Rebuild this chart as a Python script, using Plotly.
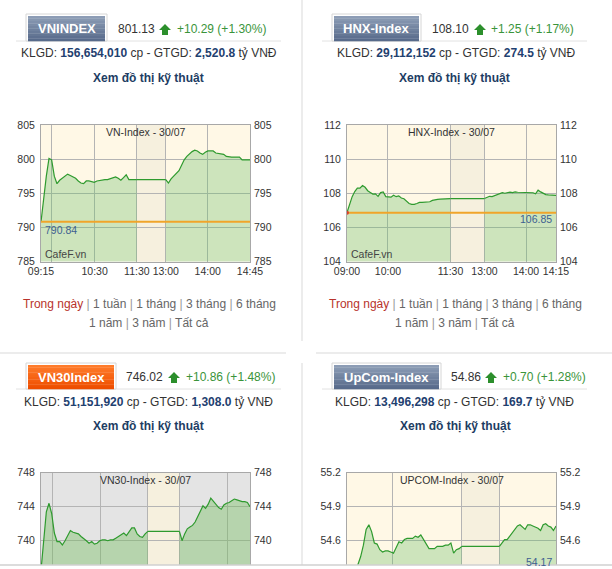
import numpy as np
import plotly.graph_objects as go

# ---------------- data ----------------
vn_am = [790.8, 794.7, 797.5, 800.1, 799.9, 797.5, 796.4, 796.9, 797.2, 797.6, 797.8, 797.6,
         797.4, 797.2, 796.8, 796.5, 796.4, 796.8, 796.8, 796.7, 796.6, 796.8, 796.9, 796.9,
         797.0, 797.0, 797.1, 797.2, 797.4, 797.2, 796.9, 797.3, 797.7, 797.0, 797.0, 797.0, 797.0]
vn_pm = [797.0, 796.5, 797.1, 797.5, 797.9, 798.3, 799.1, 799.9, 800.4, 800.8, 801.1, 801.3,
         801.2, 800.9, 800.7, 801.0, 801.2, 801.2, 801.2, 800.9, 800.8, 800.8, 800.7, 800.4,
         800.3, 800.3, 800.3, 800.3, 800.3, 799.9, 799.9, 799.9, 799.9]
vn_ref = 790.84

hnx_am = [106.87, 107.4, 107.8, 108.1, 108.3, 108.3, 108.45, 108.35, 108.15, 108.05, 107.95,
          107.96, 107.82, 108.04, 108.08, 107.8, 107.77, 107.77, 107.88, 107.8, 107.85, 107.72,
          107.68, 107.55, 107.4, 107.35, 107.35, 107.4, 107.46, 107.47, 107.47, 107.47, 107.5,
          107.58, 107.62, 107.64, 107.65, 107.66, 107.67, 107.68, 107.69]
hnx_pm = [107.69, 107.75, 107.82, 107.8, 107.85, 107.92, 107.98, 108.03, 108.0, 108.05, 108.07,
          108.04, 108.08, 108.06, 108.05, 108.08, 108.04, 108.02, 108.03, 108.03, 107.97, 108.18,
          108.08, 108.0, 107.92, 107.9, 107.88, 107.88, 107.88]
hnx_ref = 106.85

vn30_am = [736.5, 740.3, 743.4, 744.4, 743.2, 740.9, 739.9, 739.9, 739.5, 740.0, 740.7, 741.2,
           741.0, 740.9, 740.8, 740.5, 740.3, 740.0, 739.7, 739.9, 739.6, 739.7, 740.0, 740.1,
           740.1, 740.0, 740.1, 740.1, 740.3, 740.5, 740.6, 740.9, 740.6, 741.0, 741.5, 741.5,
           740.8, 740.5, 740.4, 740.8, 741.1]
vn30_pm = [741.1, 740.0, 740.8, 741.4, 741.6, 741.8, 742.2, 742.8, 743.5, 744.1, 743.8, 744.3,
           745.0, 744.6, 744.2, 743.9, 743.7, 744.2, 744.4, 744.5, 744.7, 744.9, 744.8, 744.7,
           744.6, 744.6, 744.5, 744.0]
vn30_ref = 735.16

up_am = [54.17, 54.22, 54.27, 54.33, 54.39, 54.46, 54.56, 54.70, 54.74, 54.68, 54.58, 54.57,
         54.52, 54.50, 54.51, 54.51, 54.50, 54.49, 54.54, 54.59, 54.58, 54.61, 54.62, 54.62,
         54.62, 54.64, 54.63, 54.65, 54.61, 54.58, 54.53, 54.53, 54.53, 54.55, 54.55, 54.55,
         54.56, 54.56, 54.58, 54.49, 54.52, 54.53, 54.55]
up_pm = [54.55, 54.58, 54.61, 54.61, 54.64, 54.68, 54.71, 54.73, 54.74, 54.72, 54.70, 54.74,
         54.74, 54.73, 54.72, 54.71, 54.69, 54.74, 54.75, 54.73, 54.72, 54.69, 54.73]
up_ref = 54.17

chart_titles = ["VN-Index - 30/07", "HNX-Index - 30/07", "VN30-Index - 30/07", "UPCOM-Index - 30/07"]
vn_xlabels = ["09:15", "", "10:30", "11:30", "13:00", "14:00", "14:45"]
hnx_xlabels = ["09:00", "10:00", "11:30", "13:00", "14:00", "14:15"]
vn30_xlabels = ["", "", "", "", ""]
up_xlabels = ["", "", ""]
vn_yticks = [785, 790, 795, 800, 805]
hnx_yticks = [104, 106, 108, 110, 112]
vn30_yticks = [740, 744, 748]
up_yticks = [54.6, 54.9, 55.2]
ref_labels = ["790.84", "106.85", "", "54.17"]

tab_names = ["VNINDEX", "HNX-Index", "VN30Index", "UpCom-Index"]
index_values = ["801.13", "108.10", "746.02", "54.86"]
index_changes = ["+10.29 (+1.30%)", "+1.25 (+1.17%)", "+10.86 (+1.48%)", "+0.70 (+1.28%)"]
klgd_values = ["156,654,010", "29,112,152", "51,151,920", "13,496,298"]
gtgd_values = ["2,520.8", "274.5", "1,308.0", "169.7"]
link_row1 = ["Trong ngày", "1 tuần", "1 tháng", "3 tháng", "6 tháng"]
link_row2 = ["1 năm", "3 năm", "Tất cả"]

# ---------------- geometry / styles ----------------
W, H = 612, 569
FONT = "Liberation Sans, Arial, sans-serif"


def PX(x):
    return x / W


def PY(y):
    return 1 - y / H


CREAM = "#fff8e6"
LUNCH = "#f6f0de"
GRAYBG = "#e4e4e4"
GRID = "#b4b4b4"
BORDER = "#a8a8a8"
LINEG = "#2e9a2e"

charts = [
    dict(am=vn_am, pm=vn_pm, ref=vn_ref, xpx=(41, 250), ypx=(125, 261.5), yr=(785, 805),
         yt=vn_yticks, fmt="d", xt=[0, 0.0525, 0.2564, 0.4586, 0.5971, 0.7978, 1], xl=vn_xlabels,
         lunch=(0.4586, 0.5971), bg=CREAM, fill="rgba(112,191,109,0.35)"),
    dict(am=hnx_am, pm=hnx_pm, ref=hnx_ref, xpx=(347, 556), ypx=(125, 261.5), yr=(104, 112),
         yt=hnx_yticks, fmt="d", xt=[0, 0.1959, 0.4952, 0.6576, 0.8567, 1], xl=hnx_xlabels,
         lunch=(0.4952, 0.6576), bg=CREAM, fill="rgba(112,191,109,0.35)"),
    dict(am=vn30_am, pm=vn30_pm, ref=vn30_ref, xpx=(41, 250), ypx=(472.7, 569), yr=(736.67, 748),
         yt=vn30_yticks, fmt="d", xt=[0.0557, 0.2834, 0.5111, 0.6624, 0.8933], xl=vn30_xlabels,
         lunch=(0.5111, 0.6624), bg=GRAYBG, fill="rgba(113,188,90,0.4)"),
    dict(am=up_am, pm=up_pm, ref=up_ref, xpx=(347, 556), ypx=(472.7, 569), yr=(54.35, 55.2),
         yt=up_yticks, fmt=".1f", xt=[0.2197, 0.5494, 0.7293], xl=up_xlabels,
         lunch=(0.5494, 0.7293), bg=CREAM, fill="rgba(112,191,109,0.35)"),
]

fig = go.Figure()
layout = dict(width=W, height=H, margin=dict(l=0, r=0, t=0, b=0), paper_bgcolor="white",
              plot_bgcolor="white", showlegend=False, font=dict(family=FONT, color="#333"))
shapes = []
annots = []
TICKFONT = dict(family=FONT, size=10.5, color="#333")

for i, c in enumerate(charts):
    xid = "x" if i == 0 else f"x{i+1}"
    xkey = "xaxis" if i == 0 else f"xaxis{i+1}"
    ylid = "y" if i == 0 else f"y{2*i+1}"
    ylkey = "yaxis" if i == 0 else f"yaxis{2*i+1}"
    yrid = f"y{2*i+2}"
    yrkey = f"yaxis{2*i+2}"
    layout[xkey] = dict(domain=[PX(c["xpx"][0]), PX(c["xpx"][1])], range=[0, 1], anchor=ylid,
                        tickmode="array", tickvals=c["xt"], ticktext=c["xl"], showgrid=True,
                        gridcolor=GRID, gridwidth=1, showline=True, linecolor=BORDER, mirror=True,
                        ticks="", zeroline=False, tickfont=TICKFONT, showticklabels=(i < 2),
                        automargin=False)
    layout[ylkey] = dict(domain=[PY(c["ypx"][1]), PY(c["ypx"][0])], range=list(c["yr"]), anchor=xid,
                         tickmode="array", tickvals=c["yt"], tickformat=c["fmt"], showgrid=True,
                         gridcolor=GRID, gridwidth=1, showline=True, linecolor=BORDER, mirror=True,
                         ticks="", zeroline=False, tickfont=TICKFONT, side="left",
                         ticklabelstandoff=3, automargin=False)
    layout[yrkey] = dict(overlaying=ylid, anchor=xid, side="right", range=list(c["yr"]),
                         tickmode="array", tickvals=c["yt"], tickformat=c["fmt"], showgrid=False,
                         showline=False, ticks="", zeroline=False, tickfont=TICKFONT,
                         ticklabelstandoff=3, automargin=False)
    # backgrounds
    shapes.append(dict(type="rect", xref=f"{xid} domain", yref=f"{ylid} domain", x0=0, x1=1, y0=0, y1=1,
                       fillcolor=c["bg"], line=dict(width=0), layer="below"))
    shapes.append(dict(type="rect", xref=xid, yref=f"{ylid} domain", x0=c["lunch"][0], x1=c["lunch"][1],
                       y0=0, y1=1, fillcolor=LUNCH, line=dict(width=0), layer="below"))
    # data
    am_x = np.linspace(0, c["lunch"][0], len(c["am"]))
    pm_x = np.linspace(c["lunch"][1], 1, len(c["pm"]))
    fig.add_trace(go.Scatter(x=am_x, y=c["am"], mode="lines", fill="tozeroy", fillcolor=c["fill"],
                             line=dict(color=LINEG, width=1.2), xaxis=xid, yaxis=ylid, hoverinfo="skip"))
    fig.add_trace(go.Scatter(x=[c["lunch"][0], c["lunch"][1]], y=[c["am"][-1], c["pm"][0]], mode="lines",
                             line=dict(color=LINEG, width=1.2), xaxis=xid, yaxis=ylid, hoverinfo="skip"))
    fig.add_trace(go.Scatter(x=pm_x, y=c["pm"], mode="lines", fill="tozeroy", fillcolor=c["fill"],
                             line=dict(color=LINEG, width=1.2), xaxis=xid, yaxis=ylid, hoverinfo="skip"))
    fig.add_trace(go.Scatter(x=[0, 1], y=[c["ref"], c["ref"]], mode="lines",
                             line=dict(color="#f0a52a", width=2), xaxis=xid, yaxis=ylid, hoverinfo="skip"))
    # invisible trace on right axis so it renders
    fig.add_trace(go.Scatter(x=[0], y=[c["yr"][0]], mode="markers", marker=dict(opacity=0),
                             xaxis=xid, yaxis=yrid, hoverinfo="skip"))
    # chart title
    cx = (c["xpx"][0] + c["xpx"][1]) / 2
    annots.append(dict(text=chart_titles[i], x=PX(cx), y=PY(c["ypx"][0] + 7), xref="paper", yref="paper",
                       xanchor="center", yanchor="middle", showarrow=False,
                       font=dict(family=FONT, size=10.5, color="#333")))

# HNX starting dot
fig.add_trace(go.Scatter(x=[0], y=[hnx_ref], mode="markers", marker=dict(color="#d9412b", size=4),
                         xaxis="x2", yaxis="y3", hoverinfo="skip"))

# CafeF.vn and reference labels
for px_, py_ in [(43, 254), (349, 254)]:
    annots.append(dict(text="CafeF.vn", x=PX(px_), y=PY(py_), xref="paper", yref="paper", xanchor="left",
                       yanchor="middle", showarrow=False, font=dict(family=FONT, size=10.5, color="#444")))
for lbl, px_, py_, anc in [(ref_labels[0], 43, 230, "left"), (ref_labels[1], 554, 219, "right"),
                           (ref_labels[3], 554, 562, "right")]:
    annots.append(dict(text=lbl, x=PX(px_), y=PY(py_), xref="paper", yref="paper", xanchor=anc,
                       yanchor="middle", showarrow=False, font=dict(family=FONT, size=10.5, color="#3d5f91")))

# ---------------- headers ----------------
panels = [
    dict(tab=(28, 16, 105, 41), val_x=116, arrow=(159, 24, 171, 35), chg_x=175, row_y=29,
         l2=(148.5, 53), l3=(148, 78), sep=(16, 281, 41), links=(149, 304, 323)),
    dict(tab=(334, 16, 419, 41), val_x=430, arrow=(474, 24, 486, 35), chg_x=489, row_y=29,
         l2=(455.5, 53), l3=(454.5, 78), sep=(322, 587, 41), links=(455, 304, 323)),
    dict(tab=(28, 365, 114, 389), val_x=124, arrow=(168, 372, 180, 383), chg_x=184, row_y=376.5,
         l2=(148, 402), l3=(148, 426), sep=(16, 281, 389), links=None),
    dict(tab=(334, 365, 439, 389), val_x=449, arrow=(485, 372, 497, 383), chg_x=501, row_y=376.5,
         l2=(454, 402), l3=(455, 426), sep=(322, 587, 389), links=None),
]
tab_grads = [("#8c9cb5", "#586b8b"), ("#8c9cb5", "#586b8b"), ("#ff7b2a", "#ee4e00"), ("#8c9cb5", "#586b8b")]


def mix(c1, c2, t):
    a = [int(c1[k:k+2], 16) for k in (1, 3, 5)]
    b = [int(c2[k:k+2], 16) for k in (1, 3, 5)]
    return "#%02x%02x%02x" % tuple(int(round(a[j] + (b[j] - a[j]) * t)) for j in range(3))


for i, p in enumerate(panels):
    x0, y0, x1, y1 = p["tab"]
    # separator under tab
    sx0, sx1, sy = p["sep"]
    shapes.append(dict(type="line", xref="paper", yref="paper", x0=PX(sx0), x1=PX(sx1), y0=PY(sy), y1=PY(sy),
                       line=dict(color="#e2e2e2", width=1), layer="above"))
    # tab outer border
    shapes.append(dict(type="rect", xref="paper", yref="paper", x0=PX(x0 - 2), x1=PX(x1 + 2), y0=PY(y1),
                       y1=PY(y0 - 2), fillcolor="white", line=dict(color="#d6d6d6", width=1), layer="above"))
    n = 10
    for k in range(n):
        ya = y0 + (y1 - y0) * k / n
        yb = y0 + (y1 - y0) * (k + 1) / n
        shapes.append(dict(type="rect", xref="paper", yref="paper", x0=PX(x0), x1=PX(x1), y0=PY(yb + 0.3),
                           y1=PY(ya), fillcolor=mix(tab_grads[i][0], tab_grads[i][1], k / (n - 1)),
                           line=dict(width=0), layer="above"))
    annots.append(dict(text=f"<b>{tab_names[i]}</b>", x=PX((x0 + x1) / 2), y=PY((y0 + y1) / 2), xref="paper",
                       yref="paper", xanchor="center", yanchor="middle", showarrow=False,
                       font=dict(family=FONT, size=13, color="white")))
    # value
    annots.append(dict(text=index_values[i], x=PX(p["val_x"]), y=PY(p["row_y"]), xref="paper", yref="paper",
                       xanchor="left", yanchor="middle", showarrow=False,
                       font=dict(family=FONT, size=12, color="#333")))
    # arrow
    ax0, ay0, ax1, ay1 = p["arrow"]
    am = (ax0 + ax1) / 2
    hy = ay0 + (ay1 - ay0) * 0.55
    s0, s1 = am - 3, am + 3
    path = (f"M {PX(ax0)},{PY(hy)} L {PX(am)},{PY(ay0)} L {PX(ax1)},{PY(hy)} L {PX(s1)},{PY(hy)} "
            f"L {PX(s1)},{PY(ay1)} L {PX(s0)},{PY(ay1)} L {PX(s0)},{PY(hy)} Z")
    shapes.append(dict(type="path", xref="paper", yref="paper", path=path, fillcolor="#2c8f2c",
                       line=dict(width=0), layer="above"))
    annots.append(dict(text=index_changes[i], x=PX(p["chg_x"]), y=PY(p["row_y"]), xref="paper", yref="paper",
                       xanchor="left", yanchor="middle", showarrow=False,
                       font=dict(family=FONT, size=12, color="#3a943a")))
    # KLGD line
    num = "color:#1f4170"
    txt = (f"KLGD: <b><span style='{num}'>{klgd_values[i]}</span></b> cp - GTGD: "
           f"<b><span style='{num}'>{gtgd_values[i]}</span></b> tỷ VNĐ")
    annots.append(dict(text=txt, x=PX(p["l2"][0]), y=PY(p["l2"][1]), xref="paper", yref="paper",
                       xanchor="center", yanchor="middle", showarrow=False,
                       font=dict(family=FONT, size=12, color="#333")))
    annots.append(dict(text="<b>Xem đồ thị kỹ thuật</b>", x=PX(p["l3"][0]), y=PY(p["l3"][1]), xref="paper",
                       yref="paper", xanchor="center", yanchor="middle", showarrow=False,
                       font=dict(family=FONT, size=12, color="#1e3d63")))
    if p["links"]:
        lx, ly1, ly2 = p["links"]
        sep = " <span style='color:#999'>|</span> "
        r1 = f"<span style='color:#b8332b'>{link_row1[0]}</span>" + sep + sep.join(link_row1[1:])
        r2 = sep.join(link_row2)
        for t, yy in [(r1, ly1), (r2, ly2)]:
            annots.append(dict(text=t, x=PX(lx), y=PY(yy), xref="paper", yref="paper", xanchor="center",
                               yanchor="middle", showarrow=False,
                               font=dict(family=FONT, size=12, color="#666")))

# panel separators
SEPC = "#d9d9d9"
for (xa, ya, xb, yb) in [(0, 353, 286, 353), (316, 353, 612, 353), (302, 0, 302, 341), (302, 363, 302, 565)]:
    shapes.append(dict(type="line", xref="paper", yref="paper", x0=PX(xa), x1=PX(xb), y0=PY(ya), y1=PY(yb),
                       line=dict(color=SEPC, width=1), layer="above"))
# bottom cut
shapes.append(dict(type="rect", xref="paper", yref="paper", x0=0, x1=1, y0=0, y1=PY(565), fillcolor="white",
                   line=dict(width=0), layer="above"))
shapes.append(dict(type="line", xref="paper", yref="paper", x0=0, x1=1, y0=PY(565), y1=PY(565),
                   line=dict(color="#d0d0d0", width=1.5), layer="above"))

layout["shapes"] = shapes
layout["annotations"] = annots
fig.update_layout(**layout)
fig.write_html("out.html")
